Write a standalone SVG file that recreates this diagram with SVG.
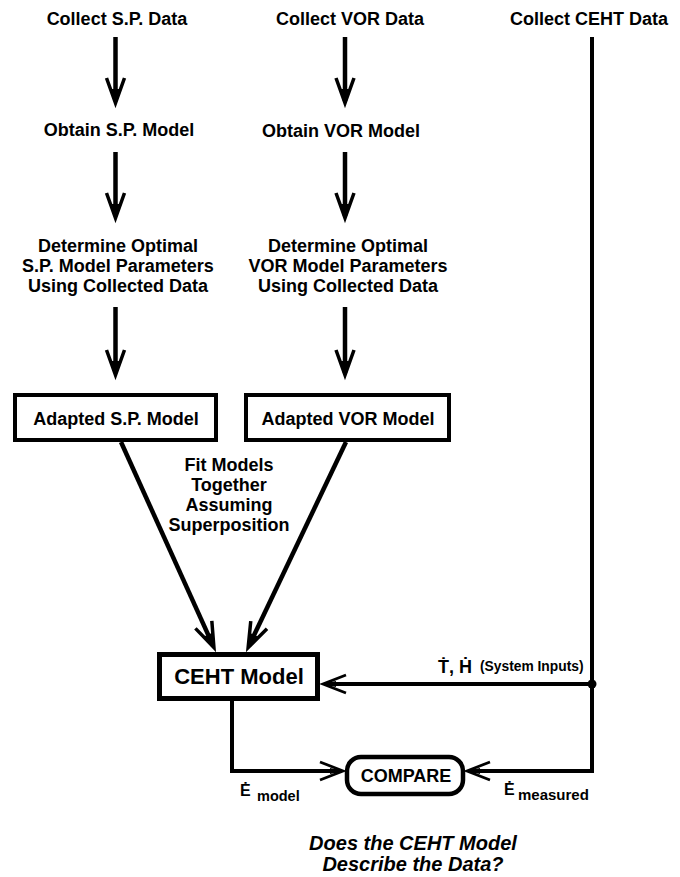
<svg xmlns="http://www.w3.org/2000/svg" width="680" height="877" viewBox="0 0 680 877">
<style>
  text { font-family: "Liberation Sans", Arial, "DejaVu Sans", sans-serif; font-weight: bold; fill: #000; }
  .lbl { font-size: 18px; text-anchor: middle; }
  .box { fill: #fff; stroke: #000; stroke-width: 4; }
  .shaft { fill: none; stroke: #000; stroke-width: 4.5; }
  .conn { fill: none; stroke: #000; stroke-width: 4; }
  .q { font-style: italic; font-size: 20px; text-anchor: middle; }
</style>
<defs>
  <marker id="ah" viewBox="-30 -14 44 28" refX="0" refY="0" markerWidth="44" markerHeight="28" markerUnits="userSpaceOnUse" orient="auto">
    <path d="M-23,-9 L2,0 L-23,9" fill="none" stroke="#000" stroke-width="3.5" stroke-linejoin="miter" stroke-miterlimit="10"/>
    <path d="M-12,-4 L4,0 L-12,4 Z" fill="#000"/>
  </marker>
  <marker id="ahs" viewBox="-30 -14 44 28" refX="0" refY="0" markerWidth="44" markerHeight="28" markerUnits="userSpaceOnUse" orient="auto">
    <path d="M-20,-9 L3,0 L-20,9" fill="none" stroke="#000" stroke-width="2.8" stroke-linejoin="miter" stroke-miterlimit="10"/>
    <path d="M-10,-3 L4,0 L-10,3 Z" fill="#000"/>
  </marker>
</defs>
<rect width="680" height="877" fill="#fff"/>

<g id="connectors">
  <line class="shaft" x1="115.5" y1="37" x2="115.5" y2="101" marker-end="url(#ah)"/>
  <line class="shaft" x1="115.5" y1="152" x2="115.5" y2="216" marker-end="url(#ah)"/>
  <line class="shaft" x1="115.5" y1="307" x2="115.5" y2="373" marker-end="url(#ah)"/>
  <line class="shaft" x1="345" y1="37" x2="345" y2="101" marker-end="url(#ah)"/>
  <line class="shaft" x1="345" y1="152" x2="345" y2="216" marker-end="url(#ah)"/>
  <line class="shaft" x1="345" y1="307" x2="345" y2="373" marker-end="url(#ah)"/>
  <line class="shaft" x1="121" y1="442" x2="213.1" y2="645.6" marker-end="url(#ah)"/>
  <line class="shaft" x1="346" y1="442" x2="249" y2="645.7" marker-end="url(#ah)"/>
  <path class="conn" d="M592,37 V771 H470" marker-end="url(#ahs)"/>
  <line class="conn" x1="592" y1="684" x2="326" y2="684" marker-end="url(#ahs)"/>
  <circle cx="592" cy="684" r="4.5" fill="#000"/>
  <path class="conn" d="M232,700 V771 H340" marker-end="url(#ahs)"/>
</g>

<g id="collect-sp"><text class="lbl" x="117" y="25">Collect S.P. Data</text></g>
<g id="collect-vor"><text class="lbl" x="350" y="25">Collect VOR Data</text></g>
<g id="collect-ceht"><text class="lbl" x="589" y="25">Collect CEHT Data</text></g>
<g id="obtain-sp"><text class="lbl" x="119" y="136">Obtain S.P. Model</text></g>
<g id="obtain-vor"><text class="lbl" x="341" y="137">Obtain VOR Model</text></g>
<g id="determine-sp">
  <text class="lbl" x="118" y="252">Determine Optimal</text>
  <text class="lbl" x="118" y="272">S.P. Model Parameters</text>
  <text class="lbl" x="118" y="292">Using Collected Data</text>
</g>
<g id="determine-vor">
  <text class="lbl" x="348" y="252">Determine Optimal</text>
  <text class="lbl" x="348" y="272">VOR Model Parameters</text>
  <text class="lbl" x="348" y="292">Using Collected Data</text>
</g>
<g id="adapted-sp">
  <rect class="box" x="15" y="395" width="201" height="45"/>
  <text class="lbl" x="116" y="425">Adapted S.P. Model</text>
</g>
<g id="adapted-vor">
  <rect class="box" x="246" y="395" width="203" height="45"/>
  <text class="lbl" x="348" y="425">Adapted VOR Model</text>
</g>
<g id="fit-label">
  <text class="lbl" x="229" y="471">Fit Models</text>
  <text class="lbl" x="229" y="491">Together</text>
  <text class="lbl" x="229" y="511">Assuming</text>
  <text class="lbl" x="229" y="531">Superposition</text>
</g>
<g id="ceht-model">
  <rect x="159.5" y="654.5" width="158" height="44" fill="#fff" stroke="#000" stroke-width="5"/>
  <text x="239" y="684" font-size="22" text-anchor="middle">CEHT Model</text>
</g>
<g id="inputs-label">
  <text x="438" y="673" font-size="18">Ṫ, Ḣ</text>
  <text x="480" y="671" font-size="13.8">(System Inputs)</text>
</g>
<g id="compare">
  <rect x="347" y="757" width="116" height="37" rx="14" fill="#fff" stroke="#000" stroke-width="4.5"/>
  <text x="406" y="782" font-size="18" text-anchor="middle">COMPARE</text>
</g>
<g id="e-model-label">
  <text x="240" y="796" font-size="16">Ė</text>
  <text x="257" y="801" font-size="14.5">model</text>
</g>
<g id="e-measured-label">
  <text x="504" y="795" font-size="16">Ė</text>
  <text x="518" y="800" font-size="15">measured</text>
</g>
<g id="question">
  <text class="q" x="413" y="850">Does the CEHT Model</text>
  <text class="q" x="413" y="871">Describe the Data?</text>
</g>
</svg>
